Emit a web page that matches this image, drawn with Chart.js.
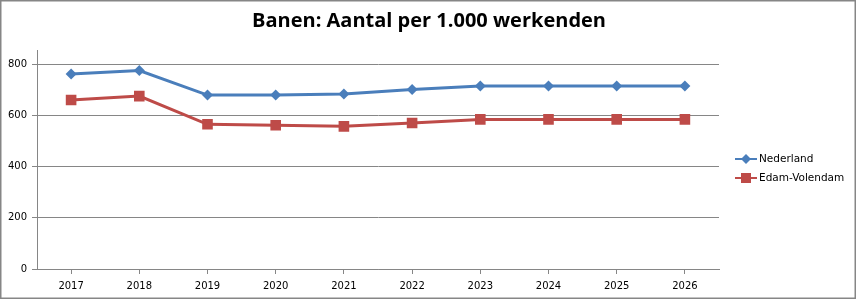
<!DOCTYPE html>
<html>
<head>
    <title>Banen: Aantal per 1.000 werkenden</title>
    <script src="https://cdn.jsdelivr.net/npm/chart.js"></script>
    <style>
        html, body { margin: 0; padding: 0; background: #fff; }
        #wrap { width: 856px; height: 299px; position: relative; }
    </style>
</head>
<body>
<div id="wrap"><canvas id="chart"></canvas></div>
<script>
    const chartTitle = "Banen: Aantal per 1.000 werkenden";
    const years = ["2017", "2018", "2019", "2020", "2021", "2022", "2023", "2024", "2025", "2026"];
    const nederland = [761, 775, 679, 679, 683, 701, 714, 714, 714, 714];
    const edamVolendam = [660, 675, 565, 561, 557, 570, 584, 584, 584, 584];
    const yTicks = [0, 200, 400, 600, 800];

    const blue = "#4a7ebb";
    const red = "#be4b48";
    const font = "Verdana, 'DejaVu Sans', sans-serif";

    // legend sample: short line with the marker in the middle
    function legendIcon(color, shape) {
        const c = document.createElement("canvas");
        c.width = 22; c.height = 12;
        const g = c.getContext("2d");
        g.strokeStyle = color; g.lineWidth = 2;
        g.beginPath(); g.moveTo(0, 6); g.lineTo(22, 6); g.stroke();
        g.fillStyle = color;
        g.beginPath();
        if (shape === "diamond") {
            g.moveTo(11, 1); g.lineTo(16, 6); g.lineTo(11, 11); g.lineTo(6, 6);
        } else {
            g.rect(6, 1, 10, 10);
        }
        g.fill();
        return c;
    }

    const extras = {
        id: "extras",
        afterDraw(chart) {
            const ctx = chart.ctx;
            ctx.save();
            // title
            ctx.fillStyle = "#000";
            ctx.font = "bold 20px 'Open Sans', sans-serif";
            ctx.textAlign = "center";
            ctx.textBaseline = "middle";
            ctx.fillText(chartTitle, 429, 21);
            // legend
            ctx.font = "10.5px " + font;
            ctx.textAlign = "left";
            chart.data.datasets.forEach((ds, i) => {
                const y = 159 + i * 19;
                ctx.drawImage(legendIcon(ds.borderColor, i === 0 ? "diamond" : "square"), 735, y - 6);
                ctx.fillStyle = "#000";
                ctx.fillText(ds.label, 759, y);
            });
            // outer border
            ctx.strokeStyle = "#868686";
            ctx.lineWidth = 1.5;
            ctx.strokeRect(0.75, 0.75, 854.5, 297.5);
            ctx.restore();
        }
    };

    new Chart(document.getElementById("chart"), {
        type: "line",
        data: {
            labels: years,
            datasets: [
                { label: "Nederland", data: nederland, borderColor: blue, backgroundColor: blue,
                  borderWidth: 3, pointStyle: "rectRot", pointRadius: 5.5, pointHoverRadius: 5.5, pointBorderWidth: 0, tension: 0 },
                { label: "Edam-Volendam", data: edamVolendam, borderColor: red, backgroundColor: red,
                  borderWidth: 3, pointStyle: "rect", pointRadius: 7.5, pointHoverRadius: 7.5, pointBorderWidth: 0, tension: 0 }
            ]
        },
        options: {
            responsive: true,
            maintainAspectRatio: false,
            animation: false,
            layout: { padding: { top: 50, right: 137, bottom: 0, left: 0 } },
            plugins: { legend: { display: false }, title: { display: false }, tooltip: { enabled: false } },
            scales: {
                x: {
                    offset: true,
                    grid: { display: true, drawOnChartArea: false, color: "#868686", tickLength: 5, offset: false },
                    border: { color: "#868686", width: 1 },
                    ticks: { color: "#000", font: { family: font, size: 10 }, padding: 6, maxRotation: 0 },
                    afterFit: axis => { axis.height = 30; }
                },
                y: {
                    min: 0,
                    max: 855,
                    afterBuildTicks: axis => { axis.ticks = yTicks.map(v => ({ value: v })); },
                    grid: { color: "#868686", tickLength: 5 },
                    border: { color: "#868686", width: 1 },
                    ticks: { color: "#000", font: { family: font, size: 10 }, padding: 5 },
                    afterFit: axis => { axis.width = 37; }
                }
            }
        },
        plugins: [extras]
    });
</script>
</body>
</html>
